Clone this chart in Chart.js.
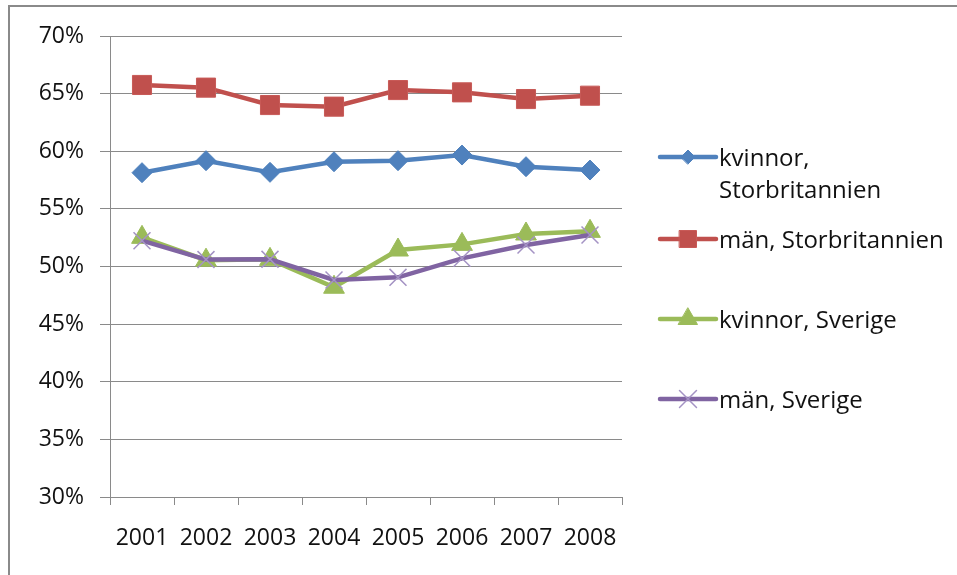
<!DOCTYPE html>
<html><head><meta charset="utf-8">
<script src="https://cdn.jsdelivr.net/npm/chart.js@4/dist/chart.umd.min.js"></script>
<style>
html,body{margin:0;padding:0;background:#fff;overflow:hidden}
#wrap{position:relative;width:957px;height:575px;overflow:hidden}
#frame{position:absolute;left:8px;top:5px;width:1100px;height:700px;border-top:2px solid #8a8a8a;border-left:2px solid #8a8a8a;pointer-events:none}
canvas{position:absolute;left:0;top:0}
</style></head>
<body><div id="wrap"><canvas id="c" width="957" height="575"></canvas><div id="frame"></div></div>
<script>
const years = ['2001','2002','2003','2004','2005','2006','2007','2008'];
const kvinnorUK = [58.14, 59.18, 58.17, 59.09, 59.18, 59.67, 58.66, 58.37];
const manUK     = [65.75, 65.52, 64.01, 63.87, 65.31, 65.11, 64.53, 64.82];
const kvinnorSE = [52.53, 50.55, 50.62, 48.2, 51.43, 51.92, 52.82, 53.05];
const manSE     = [52.24, 50.6, 50.62, 48.83, 49.06, 50.71, 51.87, 52.73];
const seriesLabels = ['kvinnor, Storbritannien', 'män, Storbritannien', 'kvinnor, Sverige', 'män, Sverige'];
const yMin = 30, yMax = 70, yStep = 5;

const FONT = '"Open Sans", sans-serif';
const FS = 23;
const LFS = 24;

const legendPlugin = {
  id: 'sideLegend',
  afterDraw(chart) {
    const ctx = chart.ctx;
    const rowsY = [157, 239, 319, 399];
    const x0 = 660, x1 = 716, tx = 719, maxW = 957 - tx - 4;
    ctx.save();
    ctx.font = LFS + 'px ' + FONT;
    ctx.textBaseline = 'alphabetic';
    ctx.textAlign = 'left';
    chart.data.datasets.forEach((ds, i) => {
      const y = rowsY[i];
      ctx.strokeStyle = ds.borderColor;
      ctx.lineWidth = ds.borderWidth;
      ctx.lineCap = 'round';
      ctx.beginPath(); ctx.moveTo(x0, y); ctx.lineTo(x1, y); ctx.stroke();
      const po = {
        pointStyle: ds.pointStyle,
        radius: ds.legendRadius || ds.pointRadius,
        rotation: 0,
        borderWidth: ds.pointBorderWidth
      };
      ctx.fillStyle = ds.pointBackgroundColor;
      ctx.strokeStyle = ds.pointBorderColor;
      ctx.lineWidth = ds.pointBorderWidth;
      Chart.helpers.drawPoint(ctx, po, (x0 + x1) / 2, y);
      const words = ds.label.split(' ');
      const lines = [];
      let cur = '';
      words.forEach(w => {
        const test = cur ? cur + ' ' + w : w;
        if (ctx.measureText(test).width > maxW && cur) { lines.push(cur); cur = w; }
        else cur = test;
      });
      lines.push(cur);
      ctx.fillStyle = '#111';
      lines.forEach((ln, k) => ctx.fillText(ln, tx, y + 9 + k * 32));
    });
    ctx.restore();
  }
};

new Chart(document.getElementById('c'), {
  type: 'line',
  data: {
    labels: years,
    datasets: [
      { label: seriesLabels[0], data: kvinnorUK, borderColor: '#4F81BD', backgroundColor: '#4F81BD',
        pointBackgroundColor: '#4F81BD', pointBorderColor: '#4F81BD', pointBorderWidth: 1,
        pointStyle: 'rectRot', pointRadius: 10, legendRadius: 7, borderWidth: 4.5, order: 4 },
      { label: seriesLabels[1], data: manUK, borderColor: '#C0504D', backgroundColor: '#C0504D',
        pointBackgroundColor: '#C0504D', pointBorderColor: '#C85A57', pointBorderWidth: 1,
        pointStyle: 'rect', pointRadius: 13.5, legendRadius: 12, borderWidth: 4.5, order: 3 },
      { label: seriesLabels[2], data: kvinnorSE, borderColor: '#9BBB59', backgroundColor: '#9BBB59',
        pointBackgroundColor: '#9BBB59', pointBorderColor: '#9BBB59', pointBorderWidth: 1,
        pointStyle: 'triangle', pointRadius: 12, legendRadius: 11, borderWidth: 4.5, order: 2 },
      { label: seriesLabels[3], data: manSE, borderColor: '#8064A2', backgroundColor: '#8064A2',
        pointBackgroundColor: '#8064A2', pointBorderColor: '#A493C4', pointBorderWidth: 1.5,
        pointStyle: 'crossRot', pointRadius: 12, legendRadius: 12, borderWidth: 4.5, order: 1 }
    ]
  },
  options: {
    responsive: false,
    animation: false,
    events: [],
    layout: { padding: { top: 36, right: 335, bottom: 0, left: 0 } },
    plugins: { legend: { display: false }, tooltip: { enabled: false } },
    elements: { line: { tension: 0 } },
    scales: {
      x: {
        offset: true,
        grid: { offset: true, drawOnChartArea: false, drawTicks: true, tickLength: 8, color: '#8a8a8a', lineWidth: 1 },
        border: { display: true, color: '#8a8a8a', width: 1 },
        ticks: { color: '#111', font: { family: FONT, size: FS }, padding: 20, maxRotation: 0, autoSkip: false },
        afterFit(s) { s.height = 78; }
      },
      y: {
        min: yMin, max: yMax,
        grid: { color: '#8a8a8a', lineWidth: 1, tickLength: 10, drawTicks: true },
        border: { display: true, color: '#8a8a8a', width: 1 },
        ticks: { stepSize: yStep, color: '#111', font: { family: FONT, size: FS }, padding: 16,
                 callback: v => v + '%' },
        afterFit(s) { s.width = 110; }
      }
    }
  },
  plugins: [legendPlugin]
});
</script>
</body></html>
